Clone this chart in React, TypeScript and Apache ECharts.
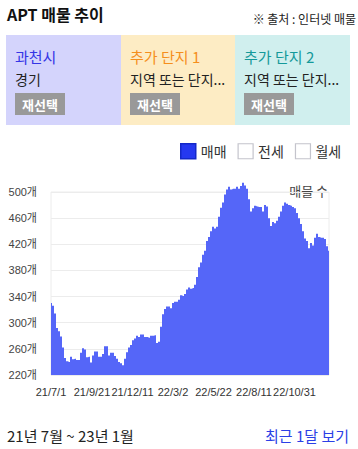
import React, { useEffect, useRef } from 'react';
import * as echarts from 'echarts';

const FONT = "'Noto Sans CJK KR', 'Noto Sans', sans-serif";
const NUM_FONT = "'Liberation Sans', 'Noto Sans CJK KR', sans-serif";

// APT listing counts, one reading every 4 days starting 2021-07-01
const listingCounts = [
  330, 326, 314, 292, 287, 279, 262, 246, 241, 240, 248, 244, 245, 243, 243, 254, 261, 259, 247, 248,
  239, 250, 256, 256, 248, 248, 252, 264, 264, 250, 254, 254, 249, 245, 240,
  238, 235, 245, 255, 262, 266, 273, 276, 280, 278, 282, 282, 278, 278, 277, 280, 280, 281, 269, 271,
  294, 313, 321, 325, 325, 322, 330, 332, 332, 335, 342, 341, 344, 351, 354,
  352, 353, 358, 370, 385, 392, 404, 410, 425, 431, 440, 447, 444, 447, 462, 476, 484, 496, 504, 508,
  504, 505, 505, 508, 505, 509, 514, 510, 505, 489, 470, 475, 479, 478, 477,
  477, 470, 480, 478, 460, 448, 454, 452, 456, 462, 470, 479, 484, 482, 480, 479, 477, 475, 468, 460,
  451, 440, 429, 425, 414, 422, 418, 430, 436, 431, 430, 430, 428, 417, 410,
];
const stepDays = 4;
const tickDays = [0, 82, 163, 244, 325, 406, 487];
const tickLabels = ['21/7/1', '21/9/21', '21/12/11', '22/3/2', '22/5/22', '22/8/11', '22/10/31'];
const legendNames = ['매매', '전세', '월세'];
const yMin = 220;
const yMax = 500;
const yStep = 40;

const boxTitles = ['과천시', '추가 단지 1', '추가 단지 2'];
const boxSubs = ['경기', '지역 또는 단지...', '지역 또는 단지...'];
const boxColors = ['#d4d4fc', '#fdecc4', '#d0efee'];
const boxTitleColors = ['#3535e6', '#f58f1c', '#14999a'];

function text(x: number, y: number, t: string, size: number, fill: string, weight: any = 'normal', align = 'left') {
  return {
    type: 'text',
    x,
    y,
    style: { text: t, fontSize: size, fontFamily: FONT, fontWeight: weight, fill, align, verticalAlign: 'middle' },
  };
}

export default function App() {
  const ref = useRef<HTMLDivElement>(null);
  useEffect(() => {
    if (!ref.current) return;
    const chart = echarts.init(ref.current, undefined, { renderer: 'svg' });
    const boxX = [6, 121, 235];
    const boxW = [115, 114, 115];
    const graphics: any[] = [
      text(7, 14, 'APT 매물 추이', 16, '#111', 'bold'),
      text(356, 18, '※ 출처 : 인터넷 매물', 12, '#222', 'normal', 'right'),
      text(328, 190, '매물 수', 13, '#444', 'normal', 'right'),
      text(7, 435, '21년 7월 ~ 23년 1월', 15, '#222'),
      text(349, 435, '최근 1달 보기', 15, '#2b3fe6', 'normal', 'right'),
    ];
    boxX.forEach((bx, i) => {
      graphics.push({ type: 'rect', shape: { x: bx, y: 35, width: boxW[i], height: 90 }, style: { fill: boxColors[i] } });
      graphics.push(text(bx + 9, 56.5, boxTitles[i], 15, boxTitleColors[i]));
      graphics.push(text(bx + 9, 79, boxSubs[i], 14, '#222'));
      graphics.push({ type: 'rect', shape: { x: bx + 9, y: 93, width: 50, height: 22 }, style: { fill: '#999999' } });
      graphics.push(text(bx + 34, 104, '재선택', 13, '#ffffff', 'bold', 'center'));
    });

    chart.setOption({
      animation: false,
      grid: {
        left: 51,
        right: 29,
        top: 192,
        bottom: 74,
        show: true,
        borderColor: '#ececec',
        borderWidth: 1,
        outerBoundsMode: 'none',
      },
      legend: {
        left: 175,
        top: 138,
        itemWidth: 15,
        itemHeight: 15,
        itemGap: 11,
        icon: 'rect',
        selectedMode: false,
        textStyle: { fontSize: 14, color: '#333', fontFamily: FONT },
        data: [
          { name: legendNames[0], itemStyle: { color: '#2538f0', borderColor: '#1428c8', borderWidth: 1.5 } },
          { name: legendNames[1], itemStyle: { color: '#ffffff', borderColor: '#c4c4cc', borderWidth: 1.2 } },
          { name: legendNames[2], itemStyle: { color: '#ffffff', borderColor: '#c4c4cc', borderWidth: 1.2 } },
        ],
      },
      xAxis: {
        type: 'value',
        min: 0,
        max: (listingCounts.length - 1) * stepDays,
        axisLine: { show: false },
        axisTick: { show: false },
        splitLine: { show: false },
        axisLabel: {
          customValues: tickDays,
          hideOverlap: false,
          formatter: (v: number) => {
            const k = tickDays.indexOf(Math.round(v));
            return k >= 0 ? tickLabels[k] : '';
          },
          color: '#333',
          fontSize: 11,
          fontFamily: NUM_FONT,
          margin: 11,
        },
      },
      yAxis: {
        type: 'value',
        min: yMin,
        max: yMax,
        interval: yStep,
        axisLine: { show: false },
        axisTick: { show: false },
        splitLine: { lineStyle: { color: '#ececec' } },
        axisLabel: { formatter: '{value}개', color: '#444', fontSize: 11, fontFamily: NUM_FONT, margin: 14 },
      },
      series: [
        {
          name: legendNames[0],
          type: 'line',
          step: 'middle',
          data: listingCounts.map((v, i) => [i * stepDays, v]),
          symbol: 'none',
          showSymbol: false,
          lineStyle: { width: 0 },
          areaStyle: { color: '#5566f8', opacity: 1, origin: 'start' },
          itemStyle: { color: '#2538f0' },
          clip: false,
          silent: true,
        },
        { name: legendNames[1], type: 'line', data: [] },
        { name: legendNames[2], type: 'line', data: [] },
      ],
      graphic: graphics,
    });
    return () => chart.dispose();
  }, []);
  return <div ref={ref} style={{ position: 'absolute', left: 0, top: 0, width: 358, height: 449 }} />;
}
